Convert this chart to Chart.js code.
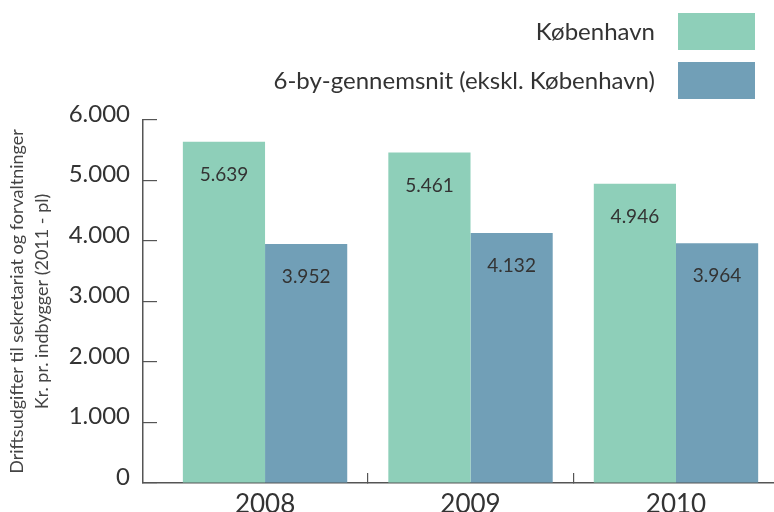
<!DOCTYPE html>
<html>
<head>
<meta charset="utf-8">
<script src="https://cdn.jsdelivr.net/npm/chart.js@4/dist/chart.umd.min.js"></script>
<style>
  html, body { margin: 0; padding: 0; background: #fff; }
  #wrap { width: 774px; height: 512px; position: relative; }
</style>
</head>
<body>
<div id="wrap"><canvas id="c" width="774" height="512"></canvas></div>
<script>
const years = ['2008', '2009', '2010'];
const kobenhavn = [5639, 5461, 4946];
const seksBy = [3952, 4132, 3964];
const seriesNames = ['København', '6-by-gennemsnit (ekskl. København)'];
const yTicks = [0, 1000, 2000, 3000, 4000, 5000, 6000];
const yTitle = ['Driftsudgifter til sekretariat og forvaltninger', 'Kr. pr. indbygger (2011 - pl)'];

const FONT = 'Lato, "Open Sans", sans-serif';
const GREEN = '#8ecfb9';
const BLUE = '#719fb7';
const TEXT = '#333333';
const AXIS = '#555555';

function fmt(v) {
  return String(Math.round(v)).replace(/\B(?=(\d{3})+(?!\d))/g, '.');
}

const legendPlugin = {
  id: 'customLegend',
  afterDraw(chart) {
    const ctx = chart.ctx;
    ctx.save();
    ctx.font = '24px ' + FONT;
    ctx.textAlign = 'right';
    ctx.textBaseline = 'middle';
    chart.data.datasets.forEach((ds, i) => {
      const top = 13 + i * 49;
      ctx.fillStyle = ds.backgroundColor;
      ctx.fillRect(678, top, 77, 37);
      ctx.fillStyle = TEXT;
      ctx.fillText(ds.label, 655, top + 19);
    });
    ctx.restore();
  }
};

const valueLabels = {
  id: 'valueLabels',
  afterDatasetsDraw(chart) {
    const ctx = chart.ctx;
    ctx.save();
    ctx.font = '19px ' + FONT;
    ctx.fillStyle = TEXT;
    ctx.textAlign = 'center';
    ctx.textBaseline = 'middle';
    chart.data.datasets.forEach((ds, di) => {
      const meta = chart.getDatasetMeta(di);
      meta.data.forEach((el, i) => {
        ctx.fillText(fmt(ds.data[i].y), el.x, el.y + 33);
      });
    });
    ctx.restore();
  }
};

const toXY = arr => arr.map((v, i) => ({ x: i, y: v }));

new Chart(document.getElementById('c'), {
  type: 'bar',
  data: {
    datasets: [
      { label: seriesNames[0], data: toXY(kobenhavn), backgroundColor: GREEN, borderWidth: 0 },
      { label: seriesNames[1], data: toXY(seksBy), backgroundColor: BLUE, borderWidth: 0 }
    ]
  },
  options: {
    responsive: false,
    animation: false,
    events: [],
    layout: { padding: { top: 120, right: 0, bottom: 0, left: 0 } },
    datasets: { bar: { categoryPercentage: 1.6, barPercentage: 1.0 } },
    plugins: {
      legend: { display: false },
      tooltip: { enabled: false }
    },
    scales: {
      x: {
        type: 'linear',
        offset: false,
        min: -0.594,
        max: 2.477,
        afterBuildTicks: s => { s.ticks = [0, 0.5, 1, 1.5, 2].map(v => ({ value: v })); },
        afterFit: s => { s.height = 29; s.paddingLeft = 0; s.paddingRight = 0; },
        grid: {
          offset: false,
          drawOnChartArea: false,
          drawTicks: true,
          tickLength: -10,
          lineWidth: 1.2,
          color: c => (c.tick && !Number.isInteger(c.tick.value)) ? AXIS : 'rgba(0,0,0,0)'
        },
        border: { display: true, color: AXIS, width: 1.5 },
        ticks: {
          autoSkip: false,
          maxRotation: 0,
          padding: 16,
          color: TEXT,
          font: { family: FONT, size: 26 },
          callback: v => Number.isInteger(v) ? years[v] : ''
        }
      },
      y: {
        min: 0,
        max: 6000,
        afterBuildTicks: s => { s.ticks = yTicks.map(v => ({ value: v })); },
        afterFit: s => { s.width = 143; s.paddingTop = 0; s.paddingBottom = 0; },
        grid: {
          drawOnChartArea: false,
          drawTicks: true,
          tickLength: -14,
          lineWidth: 1.2,
          color: AXIS
        },
        border: { display: true, color: AXIS, width: 1.5 },
        ticks: {
          padding: 27,
          labelOffset: -6,
          color: TEXT,
          font: { family: FONT, size: 24 },
          callback: v => fmt(v)
        },
        title: {
          display: true,
          text: yTitle,
          color: '#444444',
          font: { family: FONT, size: 18, lineHeight: 1.39 },
          padding: { top: 5, bottom: 0 }
        }
      }
    }
  },
  plugins: [legendPlugin, valueLabels]
});
</script>
</body>
</html>
